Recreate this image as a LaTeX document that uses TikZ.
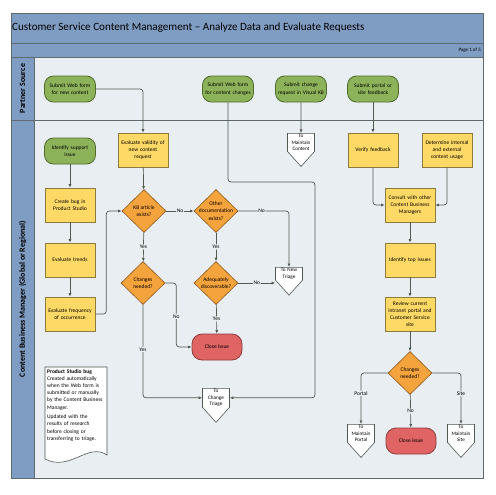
\documentclass[tikz,border=0pt]{standalone}
\usepackage{fontspec}
\setmainfont{Carlito}
\usetikzlibrary{shapes.geometric,shapes.symbols,positioning,calc,arrows.meta}

\definecolor{laneBlue}{HTML}{7F9CC2}
\definecolor{laneBg}{HTML}{E9EEF3}
\definecolor{frameGray}{HTML}{5E6A6E}
\definecolor{greenFill}{HTML}{8DB35A}
\definecolor{greenLine}{HTML}{4F6B2B}
\definecolor{yellowFill}{HTML}{FFD966}
\definecolor{yellowLine}{HTML}{8C7B3C}
\definecolor{orangeFill}{HTML}{F5A33D}
\definecolor{orangeLine}{HTML}{8C5B1F}
\definecolor{redFill}{HTML}{E06464}
\definecolor{redLine}{HTML}{8E3B3B}
\definecolor{flowGray}{HTML}{4F5A50}

\tikzset{
  every node/.style={font=\fontsize{5.5}{7.2}\selectfont},
  start/.style={draw=greenLine, fill=greenFill, rounded corners=9pt, line width=0.8pt,
    minimum width=51, minimum height=26, text width=46, align=center, inner sep=1pt},
  process/.style={draw=yellowLine, fill=yellowFill, line width=0.6pt,
    minimum width=50, minimum height=34, text width=46, align=center, inner sep=1pt},
  decision/.style={diamond, draw=orangeLine, fill=orangeFill, line width=0.6pt,
    minimum width=44, minimum height=43, inner sep=-5pt, align=center},
  terminal/.style={draw=redLine, fill=redFill, rounded corners=10pt, line width=0.8pt,
    minimum width=50, minimum height=26, align=center},
  offpage/.style={signal, signal to=south, signal from=nowhere, signal pointer angle=84,
    draw=flowGray, fill=white, line width=0.6pt, minimum width=27, minimum height=16,
    text width=25, align=center, inner xsep=1pt, inner ysep=1.2pt, anchor=north,
    font=\fontsize{5.2}{6.2}\selectfont},
  flow/.style={draw=flowGray, line width=0.7pt, rounded corners=3pt,
    -{Latex[length=3.5pt,width=3pt]}},
  flowlabel/.style={fill=laneBg, inner sep=0.8pt},
  lanetext/.style={rotate=90, font=\bfseries\fontsize{8}{9}\selectfont}
}

\begin{document}
\begin{tikzpicture}[x=1pt,y=-1pt]
    \useasboundingbox (0,0) rectangle (495,495);

    % swimlane frame
    \fill[laneBlue] (11,14) rectangle (483,57);
    \fill[laneBg] (34,57) rectangle (483,478);
    \fill[laneBlue] (11,57) rectangle (34,478);
    \draw[frameGray, line width=0.8pt] (11,43) -- (483,43);
    \draw[frameGray, line width=0.8pt] (11,57) -- (483,57);
    \draw[frameGray, line width=0.8pt] (11,120) -- (483,120);
    \draw[frameGray, line width=0.8pt] (34,57) -- (34,478);
    \draw[frameGray, line width=1pt] (11,14) rectangle (483,478);

    \node[anchor=west, inner sep=0, font=\fontsize{11.1}{12}\selectfont] (title) at (12,28)
        {Customer Service Content Management – Analyze Data and Evaluate Requests};
    \node[anchor=east, inner sep=0, font=\fontsize{5}{6}\selectfont] (page) at (481,50) {Page 1 of 5};
    \node[lanetext] (lanePartner) at (22.5,88.5) {Partner Source};
    \node[lanetext] (laneManager) at (22.5,299) {Content Business Manager (Global or Regional)};

    % partner source lane
    \node[start] (subNew) at (70,89) {Submit Web form\\for new content};
    \node[start] (subChg) at (228,89) {Submit Web form\\for content changes};
    \node[start] (subKB) at (301,89) {Submit change\\request in Visual KB};
    \node[start] (subPortal) at (373,89) {Submit portal or\\site feedback};

    % left column
    \node[start] (identify) at (70,151) {Identify support\\issue};
    \node[process] (createBug) at (70,205) {Create bug in\\Product Studio};
    \node[process] (evalTrends) at (70,260) {Evaluate trends};
    \node[process] (evalFreq) at (70,314) {Evaluate frequency\\of occurrence};

    % middle
    \node[process] (evalValid) at (143,150) {Evaluate validity of\\new content\\request};
    \node[decision] (kb) at (144,211) {KB article\\exists?};
    \node[decision] (otherDoc) at (216,211) {Other\\documentation\\exists?};
    \node[decision] (chgA) at (143,283) {Changes\\needed?};
    \node[decision] (adeq) at (216,283) {Adequately\\discoverable?};
    \node[terminal] (closeA) at (217,347) {Close issue};
    \node[offpage] (newTriage) at (289,267) {To New\\Triage};
    \node[offpage] (chgTriage) at (216,388) {To\\Change\\Triage};
    \node[offpage] (toContent) at (301,133) {To\\Maintain\\Content};
    \coordinate (bendChg) at (315,182);

    % right column
    \node[process] (verify) at (373,150) {Verify feedback};
    \node[process] (determine) at (447,150) {Determine internal\\and external\\content usage};
    \node[process] (consult) at (410,205) {Consult with other\\Content Business\\Managers};
    \node[process] (topIssues) at (410,260) {Identify top issues};
    \node[process] (review) at (410,314) {Review current\\intranet portal and\\Customer Service\\site};
    \node[decision] (chgB) at (410,373) {Changes\\needed?};
    \node[offpage] (toPortal) at (361,424) {To\\Maintain\\Portal};
    \node[terminal] (closeB) at (411,441) {Close issue};
    \node[offpage] (toSite) at (461,424) {To\\Maintain\\Site};

    % note
    \draw[flowGray, fill=white, line width=0.6pt] (45,367) -- (107,367) -- (107,455)
        .. controls (88,442) and (70,472) .. (45,459) -- cycle;
    \node[anchor=north west, inner sep=0, text width=60, align=left] (note) at (47,369)
        {\textbf{Product Studio bug}\\ Created automatically\\ when the Web form is\\ submitted or manually\\
         by the Content Business\\ Manager.\\[2.5pt] Updated with the\\ results of research\\
         before closing or\\ transferring to triage.};

    % connectors
    \draw[flow] (subNew.east) -| (evalValid.north);
    \draw[flow] (identify) -- (createBug);
    \draw[flow] (createBug) -- (evalTrends);
    \draw[flow] (evalTrends) -- (evalFreq);
    \draw[flow] (evalFreq.east) -- ++(11,0) |- (kb.west);
    \draw[flow] (evalValid) -- (kb);
    \draw[flow] (kb) -- node[flowlabel] {No} (otherDoc);
    \draw[flow] (kb) -- node[flowlabel] {Yes} (chgA);
    \draw[flow] (otherDoc) -- node[flowlabel] {Yes} (adeq);
    \draw[flow] (adeq) -- node[flowlabel] {Yes} (closeA);
    \draw[flow] (otherDoc.east) -| node[flowlabel, pos=0.23] {No} (newTriage.north);
    \draw[flow] (adeq.east) -- node[flowlabel] {No} (adeq.east -| newTriage.west);
    \draw[flow] (chgA.east) -- ++(11,0) |- node[flowlabel, pos=0.26] {No} (closeA.west);
    \draw[flow] (chgA.south) |- node[flowlabel, pos=0.24] {Yes} (chgTriage.west);
    \draw[flow] (subChg.south) |- (bendChg) |- (chgTriage.east);
    \draw[flow] (subKB) -- (toContent);
    \draw[flow] (subPortal) -- (verify);
    \draw[flow] (verify.south) |- (consult.west);
    \draw[flow] (determine.south) |- (consult.east);
    \draw[flow] (consult) -- (topIssues);
    \draw[flow] (topIssues) -- (review);
    \draw[flow] (review) -- (chgB);
    \draw[flow] (chgB.west) -| node[flowlabel, pos=0.7] {Portal} (toPortal.north);
    \draw[flow] (chgB) -- node[flowlabel] {No} (closeB);
    \draw[flow] (chgB.east) -| node[flowlabel, pos=0.7] {Site} (toSite.north);
\end{tikzpicture}
\end{document}
